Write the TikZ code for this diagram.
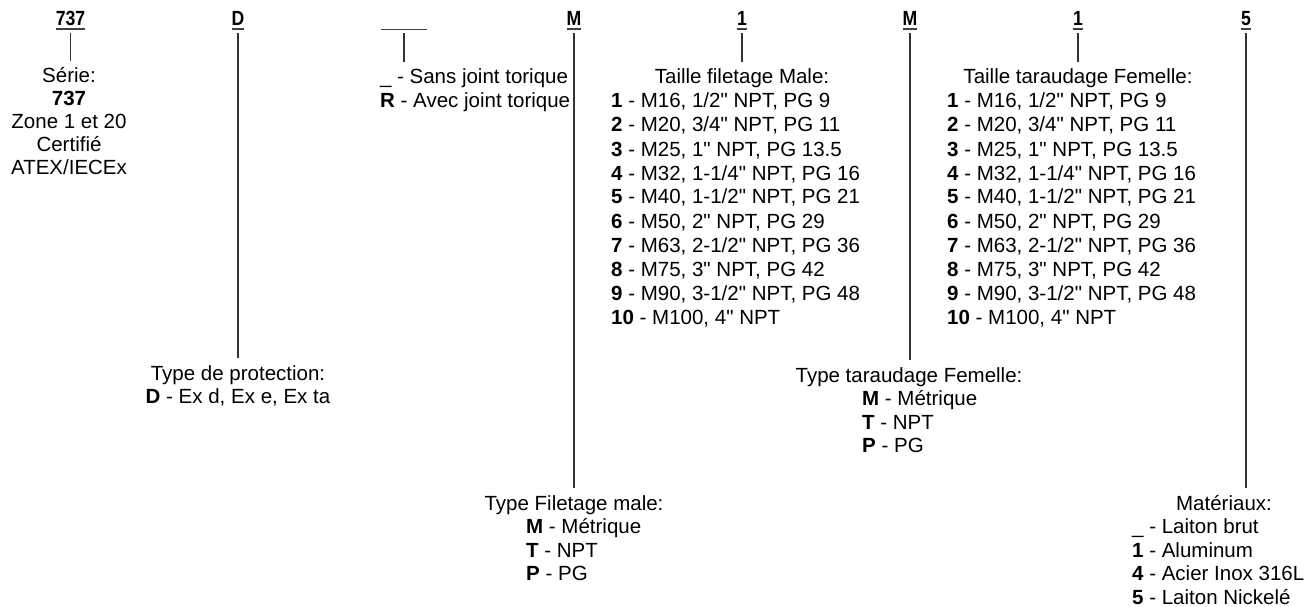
\documentclass[tikz,border=0pt]{standalone}
\usepackage{fontspec}
\setmainfont{Liberation Sans}[Ligatures=TeXOff]
\newfontfamily\headfont{Liberation Sans}[Ligatures=TeXOff, FakeStretch=0.86]
\begin{document}
\begin{tikzpicture}[x=1pt,y=-1pt,
  head/.style={font=\fontsize{20.5}{24}\headfont\bfseries, inner sep=0pt, outer xsep=0pt, outer ysep=7pt, anchor=base, text depth=0pt},
  title/.style={font=\fontsize{20.5}{24}\selectfont, inner sep=0pt, outer xsep=0pt, outer ysep=7pt, text height=15pt, text depth=0pt, anchor=base},
  items/.style={font=\fontsize{20.5}{#1}\selectfont, inner sep=0pt, anchor=base west},
  conn/.style={draw=black!80, line width=1.1pt},
  uline/.style={draw=black!75, line width=1.5pt}]
\useasboundingbox (0,0) rectangle (1313,607);

% headers
\node[head] (h1) at (70.5,26) {737};
\node[head] (h2) at (238,26) {D};
\node[head, minimum width=46pt] (h3) at (404,26) {};
\node[head] (h4) at (574,26) {M};
\node[head] (h5) at (742,26) {1};
\node[head] (h6) at (910,26) {M};
\node[head] (h7) at (1078,26) {1};
\node[head] (h8) at (1246,26) {5};
\foreach \h in {h1,h2,h3,h4,h5,h6,h7,h8}
  \draw[uline] ([yshift=4pt]\h.south west) -- ([yshift=4pt]\h.south east);

% Série
\node[title] (t1) at (69,83) {Série:};
\node[items=23, anchor=base] (i1) at (69,106) {\begin{tabular}[t]{@{}c@{}}\textbf{737}\\Zone 1 et 20\\Certifié\\ATEX/IECEx\end{tabular}};

% Type de protection
\node[title] (t2) at (238,380) {Type de protection:};
\node[items=23, anchor=base] (i2) at (238,403) {\textbf{D} - Ex d, Ex e, Ex ta};

% joint torique
\node[title, anchor=base west] (t3) at (380,84) {\_ - Sans joint torique};
\node[items=23.5] (i3) at (380,107.5) {\textbf{R} - Avec joint torique};

% Type Filetage male
\node[title] (t4) at (574,510) {Type Filetage male:};
\node[items=23.5] (i4) at (526,533.5) {\begin{tabular}[t]{@{}l@{}}\textbf{M} - Métrique\\\textbf{T} - NPT\\\textbf{P} - PG\end{tabular}};

% Taille filetage Male
\node[title] (t5) at (742,84) {Taille filetage Male:};
\node[items=24] (i5) at (611,108) {\begin{tabular}[t]{@{}l@{}}
\textbf{1} - M16, 1/2" NPT, PG 9\\
\textbf{2} - M20, 3/4" NPT, PG 11\\
\textbf{3} - M25, 1" NPT, PG 13.5\\
\textbf{4} - M32, 1-1/4" NPT, PG 16\\
\textbf{5} - M40, 1-1/2" NPT, PG 21\\
\textbf{6} - M50, 2" NPT, PG 29\\
\textbf{7} - M63, 2-1/2" NPT, PG 36\\
\textbf{8} - M75, 3" NPT, PG 42\\
\textbf{9} - M90, 3-1/2" NPT, PG 48\\
\textbf{10} - M100, 4" NPT\end{tabular}};

% Type taraudage Femelle
\node[title] (t6) at (909,382) {Type taraudage Femelle:};
\node[items=23.5] (i6) at (862,405.5) {\begin{tabular}[t]{@{}l@{}}\textbf{M} - Métrique\\\textbf{T} - NPT\\\textbf{P} - PG\end{tabular}};

% Taille taraudage Femelle
\node[title] (t7) at (1078,84) {Taille taraudage Femelle:};
\node[items=24] (i7) at (947,108) {\begin{tabular}[t]{@{}l@{}}
\textbf{1} - M16, 1/2" NPT, PG 9\\
\textbf{2} - M20, 3/4" NPT, PG 11\\
\textbf{3} - M25, 1" NPT, PG 13.5\\
\textbf{4} - M32, 1-1/4" NPT, PG 16\\
\textbf{5} - M40, 1-1/2" NPT, PG 21\\
\textbf{6} - M50, 2" NPT, PG 29\\
\textbf{7} - M63, 2-1/2" NPT, PG 36\\
\textbf{8} - M75, 3" NPT, PG 42\\
\textbf{9} - M90, 3-1/2" NPT, PG 48\\
\textbf{10} - M100, 4" NPT\end{tabular}};

% Matériaux
\node[title] (t8) at (1224,510) {Matériaux:};
\node[items=23.5] (i8) at (1132,533.5) {\begin{tabular}[t]{@{}l@{}}\_ - Laiton brut\\\textbf{1} - Aluminum\\\textbf{4} - Acier Inox 316L\\\textbf{5} - Laiton Nickelé\end{tabular}};

% connectors
\draw[conn] (h1.south) -- (h1.south |- t1.north);
\draw[conn] (h2.south) -- (h2.south |- t2.north);
\draw[conn] (h3.south) -- (h3.south |- t3.north);
\draw[conn] (h4.south) -- (h4.south |- t4.north);
\draw[conn] (h5.south) -- (h5.south |- t5.north);
\draw[conn] (h6.south) -- (h6.south |- t6.north);
\draw[conn] (h7.south) -- (h7.south |- t7.north);
\draw[conn] (h8.south) -- (h8.south |- t8.north);
\end{tikzpicture}
\end{document}
